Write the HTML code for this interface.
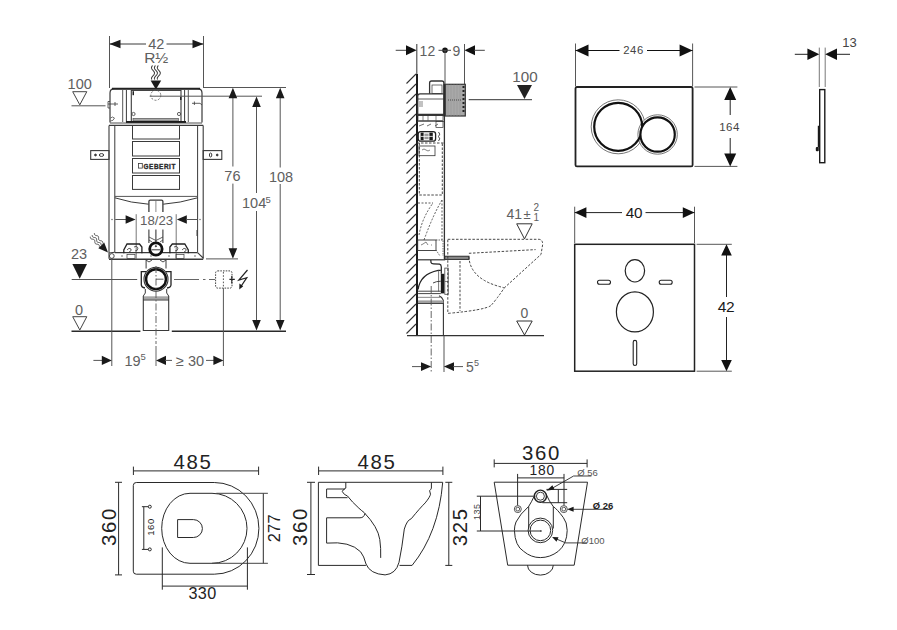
<!DOCTYPE html>
<html><head><meta charset="utf-8">
<style>
html,body{margin:0;padding:0;background:#fff;}
body{width:897px;height:630px;overflow:hidden;}
svg{position:absolute;left:0;top:0;}
text{font-family:"Liberation Sans",sans-serif;}
</style></head>
<body>
<svg width="897" height="630" viewBox="0 0 897 630">
<rect x="0" y="0" width="897" height="630" fill="#fff"/>
<!-- ============ A: frame front view ============ -->
<g id="A" stroke="#3a3a3a" stroke-width="1" fill="none">
  <!-- 42 dim -->
  <line x1="109.5" y1="36" x2="109.5" y2="88" stroke="#555"/>
  <line x1="203.5" y1="36" x2="203.5" y2="88" stroke="#555"/>
  <line x1="110" y1="44" x2="146" y2="44"/>
  <line x1="166.5" y1="44" x2="203" y2="44"/>
  <path d="M109.5 44 L120.5 39.8 L120.5 48.2 Z M203.5 44 L192.5 39.8 L192.5 48.2 Z" fill="#1a1a1a" stroke="none"/>
  <!-- R1/2 wavy arrows -->
  <path d="M152.56 65.50 L152.10 66.08 L151.75 66.67 L151.55 67.25 L151.51 67.83 L151.64 68.42 L151.92 69.00 L152.34 69.58 L152.82 70.17 L153.33 70.75 L153.80 71.33 L154.18 71.92 L154.42 72.50 L154.50 73.08 L154.41 73.67 L154.15 74.25 L153.77 74.83 L153.29 75.42 L152.79 76.00 L152.30 76.58 L151.90 77.17 L151.62 77.75 L151.50 78.33 L151.56 78.92 L151.77 79.50 M155.46 65.50 L155.00 66.08 L154.65 66.67 L154.45 67.25 L154.41 67.83 L154.54 68.42 L154.82 69.00 L155.24 69.58 L155.72 70.17 L156.23 70.75 L156.70 71.33 L157.08 71.92 L157.32 72.50 L157.40 73.08 L157.31 73.67 L157.05 74.25 L156.67 74.83 L156.19 75.42 L155.69 76.00 L155.20 76.58 L154.80 77.17 L154.52 77.75 L154.40 78.33 L154.46 78.92 L154.67 79.50 M158.36 65.50 L157.90 66.08 L157.55 66.67 L157.35 67.25 L157.31 67.83 L157.44 68.42 L157.72 69.00 L158.14 69.58 L158.62 70.17 L159.13 70.75 L159.60 71.33 L159.98 71.92 L160.22 72.50 L160.30 73.08 L160.21 73.67 L159.95 74.25 L159.57 74.83 L159.09 75.42 L158.59 76.00 L158.10 76.58 L157.70 77.17 L157.42 77.75 L157.30 78.33 L157.36 78.92 L157.57 79.50" stroke="#3a3a3a" stroke-width="1.05"/>
  <path d="M150.6 80.5 L161.2 80.5 L155.9 89.5 Z" fill="#1a1a1a" stroke="none"/>
  <!-- 100 datum -->
  <path d="M72.7 91.7 L86.8 91.7 L79.8 104.8 Z" stroke="#444"/>
  <line x1="71.5" y1="105.8" x2="105.5" y2="105.8" stroke="#555"/>
  <!-- cistern -->
  <path d="M110 122.5 L110 93 Q110 88.6 114.5 88.6 L197.5 88.6 Q202 88.6 202 93 L202 122.5" stroke-width="1.2"/>
  <line x1="112" y1="88.8" x2="200" y2="88.8" stroke="#222" stroke-width="2"/>
  <path d="M110 101.5 L108 101.5 L108 108 L110 108 M108 104 L118 104 M115 102 L115 106" stroke-width="0.8"/>
  <path d="M110.5 118 q2 -2 4 0 q-1 3 -4 3" stroke-width="0.7"/>
  <line x1="122.7" y1="90" x2="122.7" y2="122" stroke="#555"/>
  <line x1="126.4" y1="90" x2="126.4" y2="122"/>
  <line x1="184.6" y1="90" x2="184.6" y2="122"/>
  <line x1="188.3" y1="90" x2="188.3" y2="122" stroke="#555"/>
  <rect x="131.3" y="90.4" width="49.7" height="31.3" stroke-width="1.1"/>
  <rect x="132.5" y="91.2" width="1.5" height="4" fill="#222" stroke="none"/>
  <rect x="180" y="97" width="1.5" height="3" fill="#222" stroke="none"/>
  <circle cx="133.5" cy="114" r="1.6" stroke-width="0.8"/>
  <circle cx="179" cy="114" r="1.6" stroke-width="0.8"/>
  <rect x="133" y="118.4" width="45.5" height="2.6" fill="#aaa" stroke="#444" stroke-width="0.6"/>
  <line x1="126" y1="122" x2="186" y2="122" stroke="#1a1a1a" stroke-width="2"/>
  <line x1="110" y1="123" x2="202" y2="123" stroke-width="0.9"/>
  <circle cx="155.8" cy="95.3" r="5" stroke-dasharray="2 1.5" stroke-width="0.8" stroke="#555"/>
  <line x1="149.7" y1="96.2" x2="262" y2="96.2" stroke="#555"/>
  <line x1="203.6" y1="87.5" x2="286" y2="87.5" stroke="#555"/>
  <path d="M192 103.3 L200 103.3 M194.4 101.5 L194.4 105 M200 103.3 L202 105" stroke-width="0.8"/>
  <!-- lower frame -->
  <line x1="109" y1="125.4" x2="109" y2="258.7" stroke-width="1.1"/>
  <line x1="114.8" y1="125.4" x2="114.8" y2="252.3"/>
  <line x1="197.6" y1="125.4" x2="197.6" y2="252.3"/>
  <line x1="203.2" y1="125.4" x2="203.2" y2="258.7" stroke-width="1.1"/>
  <line x1="109" y1="125.4" x2="203.2" y2="125.4" stroke-width="1.1"/>
  <rect x="132.5" y="125.5" width="47" height="13.5"/>
  <rect x="132.5" y="141.5" width="47" height="14.5"/>
  <rect x="132.5" y="158.5" width="47" height="14.5"/>
  <rect x="132.5" y="175.5" width="47" height="13.9"/>
  <rect x="138.5" y="163.5" width="3.8" height="4.6" stroke-width="0.8"/>
  <text x="143.6" y="168.5" font-size="6.4" font-weight="bold" fill="#222" stroke="#333" stroke-width="0.35" letter-spacing="0.55">GEBERIT</text>
  <!-- brackets -->
  <rect x="90.7" y="150.6" width="18.3" height="8.8" stroke-width="1.1"/>
  <rect x="203.2" y="150.6" width="18.6" height="8.8" stroke-width="1.1"/>
  <circle cx="95.5" cy="155" r="0.9" fill="#333"/>
  <ellipse cx="101.5" cy="155" rx="2.2" ry="1.4"/>
  <circle cx="217.2" cy="155" r="0.9" fill="#333"/>
  <ellipse cx="210.6" cy="155" rx="1.2" ry="2"/>
  <!-- curve / pipe -->
  <line x1="114.8" y1="196.4" x2="197.6" y2="196.4" stroke="#555"/>
  <path d="M114.8 197.8 Q131 203 148.6 204.2 M163.2 204.2 Q180 203 197.6 197.8"/>
  <path d="M148.9 212 L148.9 201.5 Q148.9 200.2 150.3 200.2 L161.5 200.2 Q162.9 200.2 162.9 201.5 L162.9 212" stroke-width="1.3"/>
  <line x1="155.9" y1="201" x2="155.9" y2="212" stroke-width="0.6"/>
  <path d="M148.9 229.5 L148.9 243 M162.9 229.5 L162.9 243 M155.9 229.5 L155.9 242" stroke-width="1.1"/>
  <path d="M149 237 L155.9 240.5 L162.9 237 M149 240 L152 242 M162.9 240 L160 242" stroke-width="0.8"/>
  <rect x="196.5" y="230" width="1.5" height="6" fill="#444" stroke="none"/>
  <!-- 18/23 -->
  <line x1="115.2" y1="219.5" x2="126" y2="219.5" stroke="#555"/>
  <path d="M135.6 219.5 L125.6 215.2 L125.6 223.8 Z" fill="#1a1a1a" stroke="none"/>
  <path d="M176.8 219.5 L186.8 215.2 L186.8 223.8 Z" fill="#1a1a1a" stroke="none"/>
  <line x1="186" y1="219.5" x2="197.2" y2="219.5" stroke="#555"/>
  <line x1="136.2" y1="214.2" x2="136.2" y2="258.7" stroke="#777"/>
  <line x1="176.2" y1="214.2" x2="176.2" y2="258.7" stroke="#777"/>
  <circle cx="112" cy="219.5" r="0.7" fill="#555" stroke="none"/>
  <circle cx="200" cy="219.5" r="0.7" fill="#555" stroke="none"/>
  <!-- base plate -->
  <path d="M109 259.2 L203.2 259.2" stroke-width="1.4"/>
  <path d="M114.8 252.7 L197.6 252.7" stroke-width="1.3"/>
  <path d="M109 253 L114.8 252.3 M197.6 252.7 L203.2 258" stroke-width="1.1"/>
  <path d="M121 256 L123 256 M150 256 L152 256 M168 256 L170 256 M194 256 L196 256" stroke-width="0.7"/>
  <rect x="127" y="254.5" width="8" height="4" stroke-width="0.7"/>
  <rect x="176" y="254.5" width="8" height="4" stroke-width="0.7"/>
  <!-- feet -->
  <path d="M123.8 253.3 L123.8 250 L127 244 L139.5 244 L141.9 247 L141.9 253.3" stroke="#222" stroke-width="1.3"/>
  <path d="M169.9 253.3 L169.9 247 L172.3 244 L184.8 244 L188.3 250 L188.3 253.3" stroke="#222" stroke-width="1.3"/>
  <path d="M127 250 q2 -3 4 -1 q1 2 -2 3 M134 247 q3 -2 4 1 q0 3 -3 3 M174 247 q3 -2 4 1 q0 3 -3 3 M182 250 q2 -3 4 -1 q1 2 -2 3" stroke-width="0.8"/>
  <circle cx="155.9" cy="249" r="6.2" fill="#fff" stroke="#111" stroke-width="2.8"/>
  <line x1="151.5" y1="249.8" x2="160.3" y2="249.8" stroke-width="1"/>
  <circle cx="155.9" cy="246.2" r="0.6" fill="#333"/>
  <!-- wave arrow at corner -->
  <path d="M90.30 236.70 L90.35 237.42 L90.48 238.06 L90.77 238.56 L91.24 238.89 L91.86 239.09 L92.58 239.20 L93.29 239.31 L93.91 239.51 L94.38 239.84 L94.67 240.34 L94.80 240.98 L94.85 241.70 L94.90 242.42 L95.03 243.06 L95.32 243.56 L95.79 243.89 L96.41 244.09 L97.12 244.20 L97.84 244.31 L98.46 244.51 L98.93 244.84 L99.22 245.34 L99.35 245.98 L99.40 246.70 M92.20 235.00 L92.23 235.72 L92.36 236.35 L92.64 236.85 L93.10 237.18 L93.72 237.38 L94.42 237.50 L95.13 237.62 L95.75 237.82 L96.21 238.15 L96.49 238.65 L96.62 239.28 L96.65 240.00 L96.68 240.72 L96.81 241.35 L97.09 241.85 L97.55 242.18 L98.17 242.38 L98.88 242.50 L99.58 242.62 L100.20 242.82 L100.66 243.15 L100.94 243.65 L101.07 244.28 L101.10 245.00 M94.40 233.00 L94.40 233.71 L94.50 234.35 L94.75 234.86 L95.20 235.21 L95.80 235.43 L96.50 235.57 L97.20 235.72 L97.80 235.94 L98.25 236.29 L98.50 236.80 L98.60 237.44 L98.60 238.15 L98.60 238.86 L98.70 239.50 L98.95 240.01 L99.40 240.36 L100.00 240.58 L100.70 240.73 L101.40 240.87 L102.00 241.09 L102.45 241.44 L102.70 241.95 L102.80 242.59 L102.80 243.30" stroke="#444" stroke-width="0.9"/>
  <path d="M108 252.4 L98.3 248.3 L104.2 242.5 Z" fill="#1a1a1a" stroke="none"/>
  <!-- 23 datum -->
  <path d="M72.4 264 L87 264 L79.7 278.8 Z" fill="#1a1a1a" stroke="none"/>
  <line x1="71.7" y1="279.5" x2="137.2" y2="279.5" stroke="#555"/>
  <path d="M174 279.5 L199 279.5 M203 279.5 L205.5 279.5 M209 279.5 L215 279.5" stroke="#555" stroke-width="0.9"/>
  <!-- elbow -->
  <path d="M146.1 259.4 L146.1 268.5 M166 259.4 L166 268.5" stroke-width="1"/>
  <path d="M146 260 L149 262 L152 260 M160 260 L163 262 L166 260" stroke-width="0.9"/>
  <path d="M146.5 271.7 L141.3 271.7 L141.3 285 Q141.5 287.5 145 288 M165.5 271.7 L171 271.7 L171 285 Q170.8 287.5 167 288" stroke="#222" stroke-width="1.3"/>
  <circle cx="156" cy="279.2" r="12" fill="#e8e8e8" stroke="#333" stroke-width="1.1"/>
  <circle cx="156" cy="279.2" r="9.9" fill="#fff" stroke="#111" stroke-width="2.4"/>
  <path d="M145.3 289 L145.3 293 L143.3 296 M166.7 289 L166.7 293 L168.7 296" stroke-width="1"/>
  <rect x="143.3" y="296.3" width="25.4" height="3.3" fill="#a5a5a5" stroke="none"/>
  <path d="M143.3 296 L143.3 330.5 L168.7 330.5 L168.7 296 M143.3 300 L168.7 300" stroke-width="1.1"/>
  <line x1="156" y1="266" x2="156" y2="344" stroke="#555" stroke-dasharray="7 2 1.5 2" stroke-width="0.9"/>
  <line x1="156" y1="346" x2="156" y2="366" stroke="#555" stroke-width="0.9"/>
  <path d="M156 279.2 L163.5 279.2" stroke-width="0.8"/>
  <!-- 0 datum -->
  <path d="M72.7 316.7 L86.8 316.7 L79.8 330 Z" stroke="#444"/>
  <line x1="71.5" y1="331.2" x2="140.4" y2="331.2" stroke="#2a2a2a" stroke-width="1.4"/>
  <line x1="171.8" y1="331.2" x2="286" y2="331.2" stroke="#2a2a2a" stroke-width="1.4"/>
  <line x1="111.8" y1="258.5" x2="111.8" y2="366" stroke="#555"/>
  <circle cx="111.8" cy="256" r="2.4" stroke-width="0.9"/>
  <!-- electric box -->
  <rect x="215.6" y="270.9" width="16.4" height="17.2" rx="2" stroke="#444" stroke-dasharray="1.6 1.1" stroke-width="1"/>
  <path d="M223.4 272 L223.4 287" stroke="#444" stroke-dasharray="1.6 1.6" stroke-width="0.9"/>
  <path d="M229.4 279.4 L234.8 279.4 M231.8 276 L231.8 283.4" stroke="#222" stroke-width="1.1"/>
  <line x1="223.4" y1="288.1" x2="223.4" y2="366" stroke="#555"/>
  <path d="M247.5 270 L238.8 280 L246.8 277.7 L240.6 287" stroke="#222" stroke-width="1.2"/>
  <path d="M239.3 289.5 L239.4 283.5 L243.2 286.3 Z" fill="#1a1a1a" stroke="none"/>
  <!-- bottom dims -->
  <line x1="93.4" y1="360.4" x2="103" y2="360.4" stroke="#555"/>
  <path d="M111.8 360.4 L101.8 355.8 L101.8 365 Z" fill="#1a1a1a" stroke="none"/>
  <path d="M156 360.4 L166 355.8 L166 365 Z" fill="#1a1a1a" stroke="none"/>
  <line x1="165" y1="360.4" x2="172" y2="360.4" stroke="#555"/>
  <line x1="206" y1="360.4" x2="215" y2="360.4" stroke="#555"/>
  <path d="M223.4 360.4 L213.4 355.8 L213.4 365 Z" fill="#1a1a1a" stroke="none"/>
  <!-- right dims -->
  <line x1="232.9" y1="96" x2="232.9" y2="166.5" stroke="#555"/>
  <line x1="232.9" y1="183.6" x2="232.9" y2="250" stroke="#555"/>
  <path d="M232.9 87.8 L228.6 98.2 L237.2 98.2 Z M232.9 258.7 L228.6 248.3 L237.2 248.3 Z" fill="#1a1a1a" stroke="none"/>
  <line x1="206" y1="258.9" x2="238" y2="258.9" stroke="#555"/>
  <line x1="256.5" y1="105" x2="256.5" y2="193" stroke="#555"/>
  <line x1="256.5" y1="211" x2="256.5" y2="322" stroke="#555"/>
  <path d="M256.5 96.6 L252.2 107 L260.8 107 Z M256.5 330.4 L252.2 320 L260.8 320 Z" fill="#1a1a1a" stroke="none"/>
  <line x1="280.2" y1="96" x2="280.2" y2="167.5" stroke="#555"/>
  <line x1="280.2" y1="184" x2="280.2" y2="322" stroke="#555"/>
  <path d="M280.2 87.8 L275.9 98.2 L284.5 98.2 Z M280.2 330.4 L275.9 320 L284.5 320 Z" fill="#1a1a1a" stroke="none"/>
</g>
<g fill="#606060" font-size="14.5">
  <text x="156.2" y="49.3" text-anchor="middle">42</text>
  <text x="156.2" y="62.7" text-anchor="middle" font-size="15.5">R½</text>
  <text x="79.7" y="89.2" text-anchor="middle">100</text>
  <text x="156.6" y="224.9" text-anchor="middle" font-size="13.2">18/23</text>
  <text x="79" y="258.9" text-anchor="middle">23</text>
  <text x="79" y="314.8" text-anchor="middle">0</text>
  <text x="124.5" y="366">19</text><text x="140.5" y="359.8" font-size="9.5">5</text>
  <text x="176" y="366">≥ 30</text>
  <text x="232.4" y="180.8" text-anchor="middle">76</text>
  <text x="242" y="208.2">104</text><text x="265.5" y="203" font-size="9.5">5</text>
  <text x="281" y="181.8" text-anchor="middle">108</text>
</g>
<!-- ============ B: side view ============ -->
<g id="B" stroke="#333" stroke-width="1" fill="none">
  <line x1="416.8" y1="44" x2="416.8" y2="74" stroke="#444" stroke-width="1.1"/>
  <line x1="417" y1="74" x2="417" y2="335.6" stroke="#1a1a1a" stroke-width="2"/>
  <path d="M406.5 83.5 L416 74 M406.5 93.5 L416 84 M406.5 103.5 L416 94 M406.5 113.5 L416 104 M406.5 123.5 L416 114 M406.5 133.5 L416 124 M406.5 143.5 L416 134 M406.5 153.5 L416 144 M406.5 163.5 L416 154 M406.5 173.5 L416 164 M406.5 183.5 L416 174 M406.5 193.5 L416 184 M406.5 203.5 L416 194 M406.5 213.5 L416 204 M406.5 223.5 L416 214 M406.5 233.5 L416 224 M406.5 243.5 L416 234 M406.5 253.5 L416 244 M406.5 263.5 L416 254 M406.5 273.5 L416 264 M406.5 283.5 L416 274 M406.5 293.5 L416 284 M406.5 303.5 L416 294 M406.5 313.5 L416 304 M406.5 323.5 L416 314 M406.5 333.5 L416 324" stroke-width="1.1"/>
  <line x1="407" y1="335.6" x2="544" y2="335.6" stroke-width="1.3"/>
  <!-- 12 9 dims -->
  <line x1="395.7" y1="50.3" x2="407" y2="50.3" stroke="#444"/>
  <path d="M416.6 50.3 L406 45.3 L406 55.3 Z" fill="#111" stroke="none"/>
  <circle cx="445" cy="50.3" r="2.8" fill="#111" stroke="none"/>
  <line x1="438.5" y1="50.3" x2="451" y2="50.3" stroke="#444"/>
  <path d="M464.5 50.3 L475 45.3 L475 55.3 Z" fill="#111" stroke="none"/>
  <line x1="474" y1="50.3" x2="484.8" y2="50.3" stroke="#444"/>
  <line x1="445" y1="50" x2="445" y2="84" stroke="#555"/>
  <line x1="464.5" y1="44" x2="464.5" y2="84" stroke="#555"/>
  <!-- top components -->
  <rect x="444" y="84.3" width="21.3" height="31.7" fill="#a8a8a8" stroke="#333" stroke-width="1.2"/>
  <line x1="445" y1="84.3" x2="445" y2="116" stroke="#222" stroke-width="2"/>
  <path d="M446 84.5 L446 116 M448 84.5 L448 116 M451 84.5 L451 116 M454 84.5 L454 116 M457 84.5 L457 116 M460 84.5 L460 116" stroke="#959595" stroke-width="0.6"/>
  <path d="M463.5 86 L463.5 114" stroke="#222" stroke-width="2" stroke-dasharray="2 2"/>
  <path d="M448 100 L462 100" stroke="#333" stroke-width="0.8" stroke-dasharray="1 1"/>
  <path d="M429.6 93.8 L429.6 83 Q429.6 81 431.6 81 L441.9 81 Q443.9 81 443.9 83 L443.9 93.8" stroke-width="1.3"/>
  <rect x="432" y="85" width="10" height="8.5" stroke-width="0.7"/>
  <path d="M417.7 114.4 L417.7 96 Q417.7 93.8 420 93.8 L443.9 93.8 L443.9 114.4 Z" stroke-width="1.3"/>
  <line x1="418" y1="99" x2="443.9" y2="99" stroke-width="0.8"/>
  <path d="M419 102 L423 102 M419 104 L423 104 M419 106 L423 106" stroke-width="0.6"/>
  <line x1="417" y1="115" x2="444.4" y2="115" stroke-width="1.8"/>
  <rect x="418" y="115.5" width="25" height="5" stroke-width="0.7"/>
  <path d="M423 115.5 L423 120.5 M428 115.5 L428 120.5 M436 115.5 L436 120.5" stroke-width="0.6"/>
  <line x1="444.4" y1="116" x2="444.4" y2="259.2" stroke-width="1.3"/>
  <line x1="417" y1="121.5" x2="444.4" y2="121.5" stroke-width="0.7"/>
  <path d="M419 126 L424 124 M427 126 L431 124 M435 126 L438 124" stroke-width="0.7"/>
  <rect x="436" y="121.5" width="7" height="6" stroke-width="0.7"/>
  <rect x="418.2" y="131.6" width="17.4" height="9.6" rx="2.5" fill="#fff" stroke="#222" stroke-width="1.3"/>
  <rect x="420.6" y="132.6" width="3" height="7.6" fill="#1a1a1a" stroke="none"/>
  <rect x="429.4" y="132.6" width="3.4" height="7.6" fill="#1a1a1a" stroke="none"/>
  <rect x="424.4" y="133.6" width="4.2" height="5.6" fill="#999" stroke="none"/>
  <path d="M420.6 136.4 L432.8 136.4" stroke="#fff" stroke-width="0.8"/>
  <path d="M438.5 132 Q441 134 438.5 136.5 Q441 139 438.5 141" stroke-width="0.9"/>
  <!-- dashed cistern -->
  <path d="M419.3 143 L419.3 195 L442.3 195 L442.3 143 M417 143 L444 143" stroke-width="0.9" stroke-dasharray="2.5 1.5"/>
  <rect x="419" y="146" width="16" height="9.7" stroke-width="0.8"/>
  <path d="M422 150 q2 -2 4 0 q2 2 4 0" stroke-width="0.6"/>
  <path d="M418 203 L433 203 M419 235 Q422 218 433 203 M424 240 Q433 215 442 200 M442 200 L442 240" stroke-width="0.8" stroke-dasharray="2 1.5"/>
  <rect x="417.7" y="240" width="18.3" height="10.5" stroke-width="0.9"/>
  <path d="M421 245 L423 244 L426 242 L428 245 M431 245 L432 245" stroke-width="0.6"/>
  <path d="M436 240 L443 240 L443 256 M436 250 L440 256" stroke-width="0.7" stroke-dasharray="1.5 1"/>
  <!-- frame bottom -->
  <line x1="416.8" y1="259.8" x2="445.2" y2="259.8" stroke-width="1.2"/>
  <rect x="444.8" y="256.2" width="24.2" height="3.2" fill="#888" stroke="#222" stroke-width="0.9"/>
  <!-- elbow -->
  <path d="M430.8 260 L431 262.5 Q431.5 263.9 433.5 263.9 L439.5 264.1 Q441.3 264.5 441.3 267 L441.3 273.8" stroke="#222" stroke-width="1.2"/>
  <path d="M418.1 289.5 Q420 274 438.2 270.3 L440.8 270.3" stroke="#222" stroke-width="1.2"/>
  <line x1="438.6" y1="270.3" x2="438.6" y2="291.5" stroke="#555" stroke-width="0.8"/>
  <path d="M433 283 Q436 281.3 440.8 281.2" stroke-width="0.9"/>
  <rect x="440.8" y="273.8" width="3.5" height="19.6" fill="#1a1a1a" stroke="none"/>
  <rect x="444.8" y="268.1" width="3.4" height="26.2" stroke="#444" stroke-width="0.8"/>
  <line x1="444.8" y1="281.5" x2="448.2" y2="281.5" stroke-width="0.6"/>
  <path d="M418.1 291.2 L440.8 291.2 M418.1 293.6 L440.8 293.6" stroke-width="0.9"/>
  <path d="M439 295.8 Q442 297 443.4 300.4 L443.4 335.6" stroke-width="1.1"/>
  <rect x="418" y="296.8" width="22" height="1.2" fill="#999" stroke="none"/>
  <rect x="418" y="300.4" width="25.4" height="2.8" fill="#a0a0a0" stroke="none"/>
  <line x1="418" y1="303.5" x2="443.4" y2="303.5" stroke-width="0.9"/>
  <line x1="431.2" y1="286" x2="431.2" y2="372" stroke="#555" stroke-dasharray="7 2 1.5 2" stroke-width="0.9"/>
  <line x1="444" y1="336" x2="444" y2="372" stroke="#555"/>
  <!-- toilet dashed -->
  <path d="M447.8 239.3 L538.9 239.3 Q542.7 239.5 542.7 244.4 L541 254.4 L504.4 287.8 Q496 300 491 305.5 Q485 310 448.9 313.3 L447.8 313.3 L447.8 239.3" stroke-width="0.9" stroke-dasharray="2.5 1.6"/>
  <path d="M468.9 253.3 L535.6 249.6 M468.9 256.7 Q470 280 504.4 287.8 M460 261 L460 311" stroke-width="0.9" stroke-dasharray="2.5 1.6"/>
  <!-- 100 datum -->
  <path d="M517 85 L532 85 L524.5 99 Z" fill="#222" stroke="none"/>
  <line x1="468.7" y1="99.7" x2="532" y2="99.7"/>
  <!-- 41 datum -->
  <path d="M516.7 223.8 L532.2 223.8 L524.5 238.9 Z"/>
  <!-- 0 datum -->
  <path d="M516.7 321 L532.2 321 L524.5 335 Z"/>
  <!-- 5 5 dims -->
  <line x1="412" y1="366.6" x2="421" y2="366.6" stroke="#555"/>
  <path d="M431.2 366.6 L421 362.2 L421 371 Z" fill="#1a1a1a" stroke="none"/>
  <path d="M443.9 366.6 L454 362.2 L454 371 Z" fill="#1a1a1a" stroke="none"/>
  <line x1="453" y1="366.6" x2="463" y2="366.6" stroke="#555"/>
</g>
<g fill="#606060" font-size="14">
  <text x="419.6" y="55.8">12</text>
  <text x="452.6" y="55.8">9</text>
  <text x="525" y="82.1" text-anchor="middle" font-size="15.2">100</text>
  <text x="506.5" y="219">41</text>
  <text x="523.5" y="219" font-size="13">±</text>
  <text x="533.5" y="211" font-size="10">2</text>
  <text x="533.5" y="221" font-size="10">1</text>
  <text x="524.5" y="317.8" text-anchor="middle">0</text>
  <text x="466" y="372">5</text><text x="474" y="366" font-size="9">5</text>
</g>
<!-- ============ C: flush plate ============ -->
<g id="C" stroke="#222" stroke-width="1" fill="none">
  <line x1="575.5" y1="43.5" x2="575.5" y2="86" stroke="#444" stroke-width="0.9"/>
  <line x1="692.6" y1="43.5" x2="692.6" y2="86" stroke="#444" stroke-width="0.9"/>
  <line x1="575.5" y1="50.5" x2="619.5" y2="50.5" stroke="#111" stroke-width="1.1"/>
  <line x1="647" y1="50.5" x2="692.6" y2="50.5" stroke="#111" stroke-width="1.1"/>
  <path d="M575.5 50.5 L588.5 44.5 L588.5 56.5 Z M692.6 50.5 L679.6 44.5 L679.6 56.5 Z" fill="#111" stroke="none"/>
  <rect x="575.5" y="87" width="117.1" height="79.4" rx="1.5" stroke-width="1.8"/>
  <circle cx="618.2" cy="126.8" r="27" fill="#fff" stroke="#666" stroke-width="0.9"/>
  <circle cx="657.6" cy="134.5" r="19.7" fill="#fff" stroke="#666" stroke-width="0.9"/>
  <circle cx="618.2" cy="126.8" r="24" stroke="#111" stroke-width="2.2"/>
  <circle cx="657.6" cy="134.5" r="17.2" fill="#fff" stroke="#111" stroke-width="2.2"/>
  <line x1="694.5" y1="87" x2="737.4" y2="87" stroke="#444" stroke-width="0.9"/>
  <line x1="694.5" y1="166.4" x2="737.4" y2="166.4" stroke="#444" stroke-width="0.9"/>
  <line x1="730.2" y1="99" x2="730.2" y2="115"/>
  <line x1="730.2" y1="138" x2="730.2" y2="155"/>
  <path d="M730.2 87 L724.2 100 L736.2 100 Z M730.2 166.4 L724.2 153.4 L736.2 153.4 Z" fill="#111" stroke="none"/>
</g>
<!-- ============ D: plate side ============ -->
<g id="D" stroke="#222" stroke-width="1" fill="none">
  <line x1="819.3" y1="47.6" x2="819.3" y2="87" stroke="#555" stroke-width="0.8"/>
  <line x1="825.2" y1="47.6" x2="825.2" y2="87" stroke="#555" stroke-width="0.8"/>
  <line x1="794.8" y1="54.3" x2="808" y2="54.3"/>
  <line x1="836" y1="54.3" x2="850" y2="54.3"/>
  <path d="M819.3 54.3 L807.4 48.5 L807.4 60.1 Z M825.2 54.3 L837 48.5 L837 60.1 Z" fill="#111" stroke="none"/>
  <rect x="819.7" y="89.6" width="5.1" height="73.1" stroke="#1a1a1a" stroke-width="1.4"/>
  <line x1="818.4" y1="125.7" x2="818.4" y2="147.5" stroke="#1a1a1a" stroke-width="1.2"/>
  <rect x="815.8" y="147" width="3" height="4.2" rx="1" fill="#1a1a1a" stroke="none"/>
</g>
<!-- ============ E: pad ============ -->
<g id="E" stroke="#222" stroke-width="1" fill="none">
  <line x1="574.7" y1="206.7" x2="574.7" y2="243" stroke="#444" stroke-width="0.9"/>
  <line x1="694.5" y1="206.7" x2="694.5" y2="243" stroke="#444" stroke-width="0.9"/>
  <line x1="574.7" y1="212.6" x2="622" y2="212.6"/>
  <line x1="645.5" y1="212.6" x2="694.5" y2="212.6"/>
  <path d="M574.7 212.6 L586.4 207.3 L586.4 217.9 Z M694.5 212.6 L682.8 207.3 L682.8 217.9 Z" fill="#111" stroke="none"/>
  <rect x="574.7" y="244.3" width="119.8" height="126.9" stroke-width="1.5"/>
  <ellipse cx="634.9" cy="270.8" rx="9.7" ry="11.2" stroke-width="1.2"/>
  <rect x="597.5" y="280.2" width="13" height="4" rx="2" stroke-width="1.1"/>
  <rect x="659.2" y="280.2" width="13" height="4" rx="2" stroke-width="1.1"/>
  <ellipse cx="634.9" cy="311.9" rx="18.5" ry="20" stroke-width="1.2"/>
  <rect x="633.2" y="340.4" width="3.5" height="25" rx="1.75" stroke-width="1.1"/>
  <line x1="696.6" y1="244.3" x2="731.8" y2="244.3" stroke="#444" stroke-width="0.9"/>
  <line x1="696.6" y1="371.2" x2="731.8" y2="371.2" stroke="#444" stroke-width="0.9"/>
  <line x1="726.5" y1="254" x2="726.5" y2="297"/>
  <line x1="726.5" y1="317" x2="726.5" y2="361"/>
  <path d="M726.5 244.3 L721.2 255.5 L731.8 255.5 Z M726.5 371.2 L721.2 360 L731.8 360 Z" fill="#111" stroke="none"/>
</g>
<g fill="#444" font-size="12.5" font-family="Liberation Sans, sans-serif">
  <text x="633.5" y="53.9" text-anchor="middle" font-size="11.3" letter-spacing="0.5">246</text>
  <text x="729.5" y="131.1" text-anchor="middle" font-size="11.5" letter-spacing="0.4">164</text>
  <text x="849.5" y="46.5" text-anchor="middle" font-size="13">13</text>
  <text x="634" y="218" text-anchor="middle" font-size="15.3" letter-spacing="-0.3" fill="#1a1a1a">40</text>
  <text x="726" y="312.3" text-anchor="middle" font-size="15.5" letter-spacing="-0.3" fill="#1a1a1a">42</text>
</g>
<!-- ============ F: toilet top view ============ -->
<g id="F" stroke="#2a2a2a" stroke-width="1" fill="none">
  <line x1="133.4" y1="470.9" x2="258.6" y2="470.9"/>
  <path d="M133.4 466.6 L133.4 475 M258.6 466.6 L258.6 475"/>
  <path d="M133.3 485.5 Q133.3 482.5 136.3 482.5 L214.3 482.5 A44.6 45.85 0 0 1 214.3 574.2 L136.3 574.2 Q133.3 574.2 133.3 571.2 Z"/>
  <path d="M190 493.3 L212 493.3 A35 35 0 0 1 212 563.3 L190 563.3 A28.3 35 0 0 1 190 493.3 Z"/>
  <path d="M177.6 519.6 L193.4 519.6 A9 8.95 0 0 1 193.4 537.5 L177.6 537.5 Z"/>
  <line x1="143.8" y1="506.7" x2="143.8" y2="549.4"/>
  <path d="M141.9 506.7 L148.3 506.7 M141.9 549.4 L148.3 549.4"/>
  <circle cx="149.8" cy="506.7" r="1.5"/>
  <circle cx="149.8" cy="549.4" r="1.5"/>
  <line x1="118.6" y1="482.3" x2="118.6" y2="574.9"/>
  <path d="M115 482.3 L122 482.3 M115 574.9 L122 574.9"/>
  <line x1="263.3" y1="493.3" x2="263.3" y2="563.3"/>
  <path d="M216.3 493.3 L267.9 493.3 M212 563.3 L267.9 563.3" stroke="#444"/>
  <path d="M162.3 547.4 L162.3 589.7 M247.4 547.4 L247.4 589.7"/>
  <line x1="162.3" y1="586.1" x2="247.4" y2="586.1"/>
</g>
<!-- ============ G: toilet side view ============ -->
<g id="G" stroke="#2a2a2a" stroke-width="1" fill="none">
  <line x1="318.6" y1="470.9" x2="442.9" y2="470.9"/>
  <path d="M318.6 466.6 L318.6 475 M442.9 466.6 L442.9 475"/>
  <path d="M442.7 482.3 L318.4 482.3 L318.4 565.4 L365.9 565.4 M399.5 565.4 L412.1 565.4 Q438.5 533 442.7 482.3"/>
  <path d="M326.6 543.1 Q350.2 541 360.6 551.8 Q364 556 366 564 Q370 574 385.1 574.9 Q396 574 399 562.3 Q402 548 404.3 529.1 Q407 520 411.3 518.7 Q420 508 425.2 502.9 Q430 497 430.5 494.2 L429.6 490.7 Q431.4 489 431.4 488.1 L431.4 482.3"/>
  <path d="M345.8 482.3 L345.8 488.1 Q342.3 490 342.3 491.6 Q344 495 347.5 496 Q352 502 358.9 508.2 Q362 511 364.1 512.5 Q378 527 379.8 539.6 Q381 548 380.7 557.9"/>
  <path d="M344.9 489 L326.6 489 L326.6 497.7 L347.5 497.7"/>
  <path d="M365 513.4 Q364 517.8 360 517.8 L326.6 517.8 L326.6 543.1"/>
  <line x1="310.9" y1="482.3" x2="310.9" y2="574.5"/>
  <path d="M307 482.3 L315 482.3 M307 574.5 L315 574.5"/>
  <line x1="448.8" y1="482.3" x2="448.8" y2="565.4"/>
  <path d="M445.3 482.3 L452.3 482.3 M445.3 565.4 L452.3 565.4"/>
</g>
<!-- ============ H: toilet back view ============ -->
<g id="H" stroke="#2a2a2a" stroke-width="1" fill="none">
  <line x1="494.2" y1="463.4" x2="587.1" y2="463.4"/>
  <path d="M494.2 459.4 L494.2 467.4 M587.1 459.4 L587.1 467.4"/>
  <line x1="517.6" y1="477.9" x2="564.2" y2="477.9"/>
  <path d="M517.6 473.9 L517.6 505.5 M564 473.9 L564 505.5"/>
  <path d="M494.2 482.2 L587.5 482.2 L574.2 565.2 L507.7 565.2 Z"/>
  <path d="M527.5 565.2 A12.9 9.9 0 0 0 553.3 565.2"/>
  <circle cx="540.4" cy="496.2" r="6.1" stroke="#222" stroke-width="1.4"/>
  <circle cx="540.4" cy="496.2" r="4" stroke-width="0.9"/>
  <circle cx="517.8" cy="509.1" r="3.5" stroke="#555" stroke-width="1"/>
  <circle cx="517.8" cy="509.1" r="1.9" stroke="#555" stroke-width="1"/>
  <circle cx="563.8" cy="509.1" r="3.5" stroke="#555" stroke-width="1"/>
  <circle cx="563.8" cy="509.1" r="1.9" stroke="#555" stroke-width="1"/>
  <path d="M534 496.6 Q531.5 502 528.7 506.4 Q520 514 516 522 Q514.4 526 514.4 530.4 Q515 546 523.6 551.3 Q531 557.6 540.4 557.6 Q550 557.6 558.3 551.3 Q567 544 567.2 530.4 Q567 522 563.3 517.5 Q557 509 553.3 506.6 Q549 501 546.4 494.7"/>
  <path d="M528.7 506.4 L528.7 528.5 M553.3 506.6 L553.3 528.5"/>
  <circle cx="540.4" cy="530.4" r="12.3"/>
  <circle cx="540.4" cy="530.4" r="10.3"/>
  <path d="M476.8 496.2 L535.5 496.2 M476.8 531 L541 531"/>
  <line x1="480.5" y1="496.2" x2="480.5" y2="531"/>
  <circle cx="541" cy="531" r="0.8" fill="#222" stroke="none"/>
  <path d="M546.4 489.4 L567.2 489.4 M542.4 502.7 L567.2 502.7 M558.3 489.4 L558.3 502.7"/>
  <path d="M591.4 476 L573.6 476 L550 489.5" stroke-width="0.9"/>
  <path d="M546.4 490.8 L552.4 485.2 L554.5 489.6 Z" fill="#1a1a1a" stroke="none"/>
  <line x1="573" y1="509.3" x2="611.4" y2="509.3" stroke-width="0.9"/>
  <path d="M567.1 509.3 L573.6 506.8 L573.6 511.8 Z" fill="#1a1a1a" stroke="none"/>
  <path d="M556 538.8 L565.7 542.9 L587 542.9" stroke-width="0.9"/>
  <path d="M552.1 537.1 L558.5 537.2 L556.5 541.8 Z" fill="#1a1a1a" stroke="none"/>
</g>
<g fill="#222" font-family="Liberation Sans, sans-serif">
  <text x="193" y="468.8" text-anchor="middle" font-size="20.4" letter-spacing="1.7">485</text>
  <text x="377" y="468.6" text-anchor="middle" font-size="20.4" letter-spacing="1.7">485</text>
  <text x="541.5" y="459.7" text-anchor="middle" font-size="20.4" letter-spacing="1.7">360</text>
  <text x="542.2" y="475.1" text-anchor="middle" font-size="13.8" letter-spacing="0.8">180</text>
  <text x="202.5" y="599.1" text-anchor="middle" font-size="16.2" letter-spacing="0.3">330</text>
  <text transform="translate(115.5 526.5) rotate(-90)" text-anchor="middle" font-size="20.4" letter-spacing="1.7">360</text>
  <text transform="translate(307.3 526.5) rotate(-90)" text-anchor="middle" font-size="20.4" letter-spacing="1.7">360</text>
  <text transform="translate(466.9 526.7) rotate(-90)" text-anchor="middle" font-size="20.4" letter-spacing="1.7">325</text>
  <text transform="translate(280.2 528.2) rotate(-90)" text-anchor="middle" font-size="16.4" letter-spacing="0.3">277</text>
  <text transform="translate(154 527) rotate(-90)" text-anchor="middle" font-size="9.5" letter-spacing="0.5">160</text>
  <text transform="translate(480.2 511.8) rotate(-90)" text-anchor="middle" font-size="9" letter-spacing="0.4" fill="#444">135</text>
  <text x="577.2" y="475.7" font-size="9.5" fill="#555">Ø 56</text>
  <text x="592.8" y="509.2" font-size="9.5" font-weight="bold" fill="#222">Ø 26</text>
  <text x="581.3" y="544.3" font-size="9.5" fill="#555">Ø100</text>
</g>
</svg>
</body></html>
